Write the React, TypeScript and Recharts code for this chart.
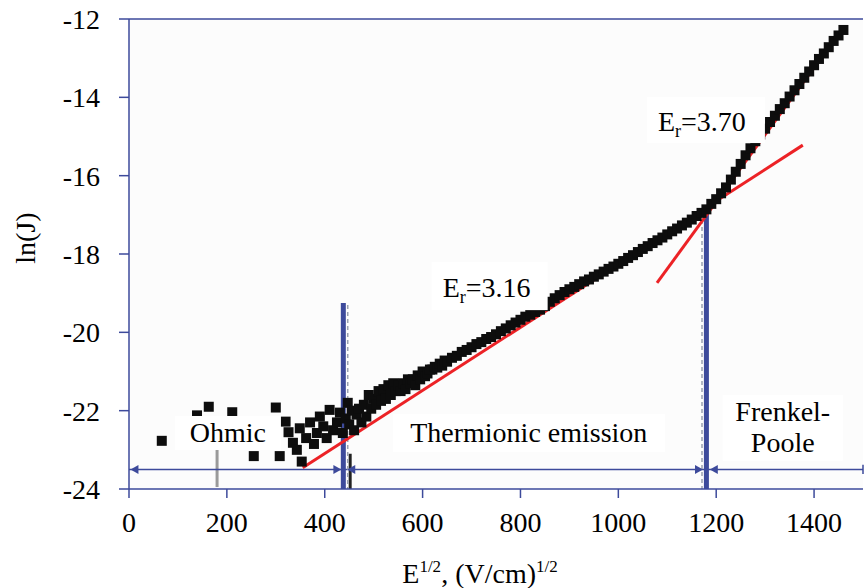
import React from 'react';
import { ComposedChart, Scatter, XAxis, YAxis, ReferenceLine, ReferenceDot, CartesianGrid } from 'recharts';

const xTicks = [0, 200, 400, 600, 800, 1000, 1200, 1400];
const yTicks = [-24, -22, -20, -18, -16, -14, -12];

// low field scatter (Ohmic region and the noisy start of the curve)
const ohmicPoints = [
    { x: 67, y: -22.77 }, { x: 139, y: -22.12 }, { x: 163, y: -21.9 }, { x: 211, y: -22.04 },
    { x: 255, y: -23.16 }, { x: 300, y: -21.92 }, { x: 308, y: -23.16 }, { x: 320, y: -22.28 },
    { x: 326, y: -22.55 }, { x: 335, y: -22.82 }, { x: 343, y: -23.0 }, { x: 349, y: -22.45 },
    { x: 353, y: -23.3 }, { x: 362, y: -22.7 }, { x: 370, y: -22.3 }, { x: 378, y: -22.85 },
    { x: 384, y: -22.57 }, { x: 390, y: -22.15 }, { x: 397, y: -22.4 }, { x: 404, y: -22.7 },
    { x: 410, y: -21.98 }, { x: 417, y: -22.5 }, { x: 425, y: -22.3 }, { x: 431, y: -22.05 },
    { x: 437, y: -22.57 }, { x: 447, y: -21.8 }, { x: 443, y: -22.2 },
];

// main curve from the thermionic region up to Frenkel-Poole
const bandPoints = [
    { x: 450, y: -22.35 }, { x: 455, y: -22.0 }, { x: 460, y: -22.5 }, { x: 465, y: -22.1 },
    { x: 470, y: -21.95 }, { x: 475, y: -22.3 }, { x: 480, y: -21.85 }, { x: 485, y: -22.15 },
    { x: 490, y: -21.6 }, { x: 495, y: -21.95 }, { x: 500, y: -21.7 }, { x: 505, y: -21.85 },
    { x: 510, y: -21.5 }, { x: 515, y: -21.75 }, { x: 520, y: -21.45 }, { x: 525, y: -21.7 },
    { x: 530, y: -21.35 }, { x: 535, y: -21.6 }, { x: 540, y: -21.3 }, { x: 545, y: -21.5 },
    { x: 550, y: -21.35 }, { x: 555, y: -21.5 }, { x: 560, y: -21.3 }, { x: 565, y: -21.45 },
    { x: 570, y: -21.2 }, { x: 575, y: -21.3 }, { x: 580, y: -21.2 }, { x: 585, y: -21.35 },
    { x: 590, y: -21.1 }, { x: 595, y: -21.2 }, { x: 600, y: -21.0 }, { x: 605, y: -21.12 },
    { x: 610, y: -21.05 }, { x: 615, y: -20.95 }, { x: 620, y: -20.95 }, { x: 625, y: -20.88 },
    { x: 630, y: -20.9 }, { x: 635, y: -20.8 }, { x: 640, y: -20.85 }, { x: 645, y: -20.72 },
    { x: 650, y: -20.75 }, { x: 660, y: -20.65 }, { x: 670, y: -20.6 }, { x: 680, y: -20.5 },
    { x: 690, y: -20.45 }, { x: 700, y: -20.38 }, { x: 710, y: -20.3 }, { x: 720, y: -20.25 },
    { x: 730, y: -20.17 }, { x: 740, y: -20.12 }, { x: 750, y: -20.05 }, { x: 760, y: -19.97 },
    { x: 770, y: -19.9 }, { x: 780, y: -19.82 }, { x: 790, y: -19.75 }, { x: 800, y: -19.68 },
    { x: 810, y: -19.6 }, { x: 820, y: -19.55 }, { x: 830, y: -19.48 }, { x: 840, y: -19.42 },
    { x: 850, y: -19.33 }, { x: 860, y: -19.22 }, { x: 870, y: -19.13 }, { x: 880, y: -19.05 },
    { x: 890, y: -18.97 }, { x: 900, y: -18.9 }, { x: 910, y: -18.84 }, { x: 920, y: -18.77 },
    { x: 930, y: -18.7 }, { x: 940, y: -18.65 }, { x: 950, y: -18.58 }, { x: 960, y: -18.52 },
    { x: 970, y: -18.45 }, { x: 980, y: -18.38 }, { x: 990, y: -18.32 }, { x: 1000, y: -18.25 },
    { x: 1010, y: -18.18 }, { x: 1020, y: -18.1 }, { x: 1030, y: -18.03 }, { x: 1040, y: -17.95 },
    { x: 1050, y: -17.87 }, { x: 1060, y: -17.8 }, { x: 1070, y: -17.72 }, { x: 1080, y: -17.65 },
    { x: 1090, y: -17.58 }, { x: 1100, y: -17.5 }, { x: 1110, y: -17.42 }, { x: 1120, y: -17.35 },
    { x: 1130, y: -17.27 }, { x: 1140, y: -17.2 }, { x: 1150, y: -17.12 }, { x: 1160, y: -17.03 },
    { x: 1170, y: -16.95 }, { x: 1180, y: -16.86 }, { x: 1190, y: -16.72 }, { x: 1200, y: -16.6 },
    { x: 1210, y: -16.45 }, { x: 1220, y: -16.3 }, { x: 1230, y: -16.1 }, { x: 1240, y: -15.9 },
    { x: 1250, y: -15.7 }, { x: 1260, y: -15.48 }, { x: 1270, y: -15.3 }, { x: 1280, y: -15.12 },
    { x: 1290, y: -14.95 }, { x: 1300, y: -14.8 }, { x: 1310, y: -14.63 }, { x: 1320, y: -14.47 },
    { x: 1330, y: -14.3 }, { x: 1340, y: -14.15 }, { x: 1350, y: -13.98 }, { x: 1360, y: -13.82 },
    { x: 1370, y: -13.66 }, { x: 1380, y: -13.5 }, { x: 1390, y: -13.34 }, { x: 1400, y: -13.18 },
    { x: 1410, y: -13.02 }, { x: 1420, y: -12.88 }, { x: 1430, y: -12.72 }, { x: 1440, y: -12.56 },
    { x: 1450, y: -12.42 }, { x: 1460, y: -12.28 },
];

// fitted straight lines
const fitThermionic = [{ x: 355, y: -23.46 }, { x: 1377, y: -15.22 }];
const fitPoole = [{ x: 1079, y: -18.74 }, { x: 1459, y: -12.23 }];

// region boundaries and the arrow line under them
const boundaries = [{ x: 438, top: -19.25 }, { x: 1180, top: -16.88 }];
const boundaryShadows = [{ x: 447, top: -19.3 }, { x: 1171, top: -16.95 }];
const arrowY = -23.5;
const arrowHeads = [
    { x: 3, dir: -1 }, { x: 434, dir: 1 }, { x: 446, dir: -1 }, { x: 1173, dir: 1 }, { x: 1187, dir: -1 },
];

const annotations = [
    { x: 202, y: -22.57, w: 106, h: 34, lines: ['Ohmic'] },
    { x: 817, y: -22.57, w: 272, h: 38, lines: ['Thermionic emission'] },
    { x: 1336, y: -22.44, w: 120, h: 66, lines: ['Frenkel-', 'Poole'] },
];
const fitLabels = [
    { x: 737, y: -18.82, w: 116, h: 48, value: '3.16' },
    { x: 1179, y: -14.58, w: 118, h: 46, value: '3.70' },
];

const AXIS = '#3d4a9b';
const RED = '#ec2226';
const FONT = '"Liberation Serif", "Times New Roman", serif';
const FS = 28;

const Square = ({ cx, cy }: any) => <rect x={cx - 5} y={cy - 5} width={10} height={10} fill="#0d0d0d" />;

const ArrowHead = ({ cx, cy, dir }: any) => (
    <path d={`M${cx},${cy} L${cx - dir * 8},${cy - 4.5} L${cx - dir * 8},${cy + 4.5} Z`} fill={AXIS} />
);

const Annotation = ({ cx, cy, a }: any) => (
    <g>
        <rect x={cx - a.w / 2} y={cy - a.h / 2} width={a.w} height={a.h} fill="#ffffff" />
        {a.lines.map((t: string, i: number) => (
            <text key={i} x={cx} y={cy + 9 - (a.lines.length - 1) * 15.5 + i * 31} textAnchor="middle"
                fontFamily={FONT} fontSize={FS} fill="#000">{t}</text>
        ))}
    </g>
);

const FitLabel = ({ cx, cy, a }: any) => (
    <g>
        <rect x={cx - a.w / 2} y={cy - a.h / 2} width={a.w} height={a.h} fill="#ffffff" />
        <text x={cx - a.w / 2 + 11} y={cy + 11} fontFamily={FONT} fontSize={FS} fill="#000">
            <tspan>E</tspan>
            <tspan fontSize={18} dy={6}>r</tspan>
            <tspan dy={-6}>{'=' + a.value}</tspan>
        </text>
    </g>
);

const XTitle = ({ viewBox }: any) => {
    const cx = viewBox.x + viewBox.width / 2 - 16;
    return (
        <text x={cx} y={viewBox.y + 94} textAnchor="middle" fontFamily={FONT} fontSize={FS} fill="#000">
            <tspan>E</tspan>
            <tspan fontSize={17} dy={-11}>1/2</tspan>
            <tspan dy={11}>, (V/cm)</tspan>
            <tspan fontSize={17} dy={-11}>1/2</tspan>
        </text>
    );
};

const YTitle = ({ viewBox }: any) => {
    const cx = 35;
    const cy = viewBox.y + viewBox.height / 2 - 16;
    return (
        <text x={cx} y={cy} transform={`rotate(-90, ${cx}, ${cy})`} textAnchor="middle"
            fontFamily={FONT} fontSize={FS} fill="#000">ln(J)</text>
    );
};

const tickStyle = { fontFamily: FONT, fontSize: FS, fill: '#000' };

export default function App() {
    return (
        <div style={{ position: 'absolute', left: 0, top: 0, width: 864, height: 588, background: '#fff' }}>
            <ComposedChart width={864} height={588} margin={{ top: 19, right: 1, left: 0, bottom: 0 }}>
                <CartesianGrid horizontal={false} vertical={false} fill="#fcfcfc" />
                <XAxis type="number" dataKey="x" domain={[0, 1500]} ticks={xTicks} height={99}
                    axisLine={{ stroke: AXIS, strokeWidth: 1.5 }} tickLine={{ stroke: AXIS, strokeWidth: 1.5 }}
                    tickSize={9} tickMargin={14} tick={tickStyle} allowDataOverflow
                    label={{ content: (p: any) => <XTitle viewBox={p.viewBox} /> }} />
                <YAxis type="number" dataKey="y" domain={[-24, -12]} ticks={yTicks} width={129}
                    axisLine={{ stroke: AXIS, strokeWidth: 1.5 }} tickLine={{ stroke: AXIS, strokeWidth: 1.5 }}
                    tickSize={10} tickMargin={19} tick={tickStyle} allowDataOverflow
                    label={{ content: (p: any) => <YTitle viewBox={p.viewBox} /> }} />
                <ReferenceLine y={-12} stroke={AXIS} strokeWidth={1.5} />

                <Scatter data={ohmicPoints} shape={(p: any) => <Square cx={p.cx} cy={p.cy} />} isAnimationActive={false} />
                <Scatter data={bandPoints} shape={(p: any) => <Square cx={p.cx} cy={p.cy} />} isAnimationActive={false} />

                {annotations.map((a, i) => (
                    <ReferenceDot key={'a' + i} x={a.x} y={a.y} shape={(p: any) => <Annotation cx={p.cx} cy={p.cy} a={a} />} />
                ))}
                {fitLabels.map((a, i) => (
                    <ReferenceDot key={'f' + i} x={a.x} y={a.y} shape={(p: any) => <FitLabel cx={p.cx} cy={p.cy} a={a} />} />
                ))}

                <ReferenceLine segment={[{ x: 180, y: -23.0 }, { x: 180, y: -23.95 }]} stroke="#9a9a9a" strokeWidth={3} />
                <ReferenceLine segment={[{ x: 452, y: -23.1 }, { x: 452, y: -24 }]} stroke="#222" strokeWidth={3} />

                <ReferenceLine segment={[{ x: 0, y: arrowY }, { x: 1500, y: arrowY }]} stroke={AXIS} strokeWidth={1.5} />
                <ReferenceLine segment={[{ x: 1500, y: arrowY + 0.12 }, { x: 1500, y: arrowY - 0.12 }]} stroke={AXIS} strokeWidth={1.5} />
                {arrowHeads.map((h, i) => (
                    <ReferenceDot key={'h' + i} x={h.x} y={arrowY} shape={(p: any) => <ArrowHead cx={p.cx} cy={p.cy} dir={h.dir} />} />
                ))}

                {boundaryShadows.map((b, i) => (
                    <ReferenceLine key={'s' + i} segment={[{ x: b.x, y: b.top }, { x: b.x, y: -24 }]}
                        stroke="#9aa0b0" strokeWidth={1.5} strokeDasharray="4 3" />
                ))}
                {boundaries.map((b, i) => (
                    <ReferenceLine key={'b' + i} segment={[{ x: b.x, y: b.top }, { x: b.x, y: -24 }]}
                        stroke={AXIS} strokeWidth={5} />
                ))}

                <ReferenceLine segment={fitThermionic} stroke={RED} strokeWidth={3} />
                <ReferenceLine segment={fitPoole} stroke={RED} strokeWidth={3} />
            </ComposedChart>
        </div>
    );
}
